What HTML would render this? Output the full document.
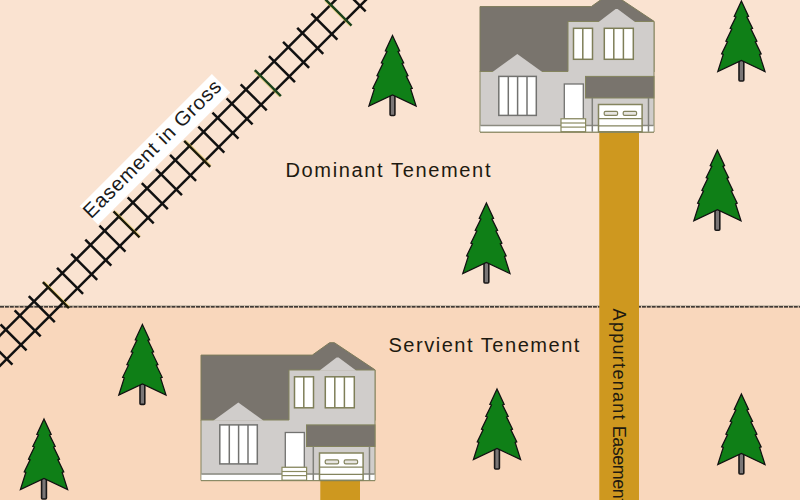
<!DOCTYPE html>
<html><head><meta charset="utf-8">
<style>
html,body{margin:0;padding:0;width:800px;height:500px;overflow:hidden;background:#fbe4d2;}
svg{display:block;}
text{font-family:"Liberation Sans",sans-serif;}
</style></head>
<body>
<svg width="800" height="500" viewBox="0 0 800 500">
<defs>
<g id="tree">
  <rect x="-2.4" y="56" width="4.8" height="24" rx="1" fill="#7a7676" stroke="#1a1818" stroke-width="1.6"/>
  <path d="M0,0 L7.17,15.40 L5.57,16.00 L11.21,27.40 L9.61,28.00 L15.51,40.20 L13.91,40.80 L19.77,52.90 L18.17,53.50 L23.60,70.60 L0,59.5 L-23.6,70.6 L-18.17,53.50 L-19.77,52.90 L-13.91,40.80 L-15.51,40.20 L-9.61,28.00 L-11.21,27.40 L-5.57,16.00 L-7.17,15.40 Z" fill="#0f7f17" stroke="#111" stroke-width="1.25" stroke-linejoin="miter"/>
</g>
<g id="house">
  <!-- roof -->
  <path d="M480,6.6 L591.3,6.6 L608.6,-5.8 L613.4,-5.8 L654,21.3 L654,72 L480,72 Z" fill="#79746d" stroke="#7d7b5a" stroke-width="1"/>
  <!-- walls -->
  <path d="M568,21.5 L654,21.5 L654,132 L480,132 L480,71.5 L568,71.5 Z" fill="#d0cdcb" stroke="#84845e" stroke-width="1"/>
  <path d="M492.2,72.2 L517.3,54 L542.6,72.2 Z" fill="#d0cdcb"/>
  <path d="M598.3,22.2 L615.6,9 L617.6,9 L635.4,22.2 Z" fill="#d0cdcb"/>
  <!-- base strip -->
  <rect x="480.5" y="126" width="173" height="5.8" fill="#fff"/>
  <line x1="480.5" y1="125.6" x2="653.5" y2="125.6" stroke="#8a8a80" stroke-width="1.5"/>
  <!-- upper windows -->
  <g fill="#fff" stroke="#7e7e58" stroke-width="1.5">
    <rect x="573.5" y="28.3" width="19" height="31"/>
    <rect x="604.3" y="28.3" width="29" height="31"/>
  </g>
  <g stroke="#7e7e58" stroke-width="1.5">
    <line x1="582.8" y1="28.3" x2="582.8" y2="59.3"/>
    <line x1="613.8" y1="28.3" x2="613.8" y2="59.3"/>
    <line x1="623.4" y1="28.3" x2="623.4" y2="59.3"/>
  </g>
  <!-- big window -->
  <rect x="498.8" y="76.4" width="37.5" height="39" fill="#fff" stroke="#727270" stroke-width="1.5"/>
  <g stroke="#727270" stroke-width="1.5">
    <line x1="508.3" y1="76.4" x2="508.3" y2="115.4"/>
    <line x1="517.6" y1="76.4" x2="517.6" y2="115.4"/>
    <line x1="527" y1="76.4" x2="527" y2="115.4"/>
  </g>
  <!-- door -->
  <rect x="564.3" y="84" width="19" height="35" fill="#fff" stroke="#727270" stroke-width="1.3"/>
  <!-- steps -->
  <rect x="561" y="118.8" width="24.6" height="12.9" fill="#fff" stroke="#8a8a60" stroke-width="1.2"/>
  <g stroke="#8a8a60" stroke-width="1.2">
    <line x1="561" y1="123" x2="585.6" y2="123"/>
    <line x1="561" y1="127.1" x2="585.6" y2="127.1"/>
  </g>
  <!-- awning -->
  <rect x="585.5" y="76.4" width="68.5" height="21.6" fill="#79746d" stroke="#84845e" stroke-width="1"/>
  <!-- pillars -->
  <g stroke="#80807a" stroke-width="1.5">
    <line x1="592.3" y1="98" x2="592.3" y2="131.8"/>
    <line x1="648.5" y1="98" x2="648.5" y2="131.8"/>
  </g>
  <!-- garage door -->
  <rect x="598.5" y="104.5" width="43.6" height="27.3" fill="#fff" stroke="#84845e" stroke-width="1.5"/>
  <g stroke="#84845e" stroke-width="1.3">
    <line x1="598.5" y1="118.7" x2="642.1" y2="118.7"/>
    <line x1="598.5" y1="125.8" x2="642.1" y2="125.8"/>
  </g>
  <rect x="604.2" y="111.4" width="13.4" height="3.9" rx="1.3" fill="#e8e6e2" stroke="#84845e" stroke-width="1.2"/>
  <rect x="623.2" y="111.4" width="13.4" height="3.9" rx="1.3" fill="#e8e6e2" stroke="#84845e" stroke-width="1.2"/>
  <!-- outline bottom -->
  <line x1="480" y1="132.2" x2="654" y2="132.2" stroke="#84845e" stroke-width="1"/>
</g>
</defs>

<!-- backgrounds -->
<rect x="0" y="0" width="800" height="307" fill="#fae3d1"/>
<rect x="0" y="307" width="800" height="193" fill="#f9d7bc"/>
<line x1="0" y1="305.6" x2="800" y2="305.6" stroke="#8a8a78" stroke-width="1" stroke-opacity="0.45"/>
<line x1="0" y1="306.9" x2="800" y2="306.9" stroke="#050505" stroke-width="1.4" stroke-dasharray="4 0.9"/>

<!-- railroad -->
<g transform="rotate(-45)">
  <g stroke="#111" stroke-width="2.5">
    <line x1="-400" y1="237.2" x2="400" y2="237.2"/>
    <line x1="-400" y1="258.7" x2="400" y2="258.7"/>
  </g>
  <g stroke="#111" stroke-width="2.5">
<line x1="-289.00" y1="229.8" x2="-289.00" y2="266.6"/>
<line x1="-269.02" y1="229.8" x2="-269.02" y2="266.6" stroke="#1c1a08"/>
<line x1="-249.04" y1="229.8" x2="-249.04" y2="266.6"/>
<line x1="-229.06" y1="229.8" x2="-229.06" y2="266.6"/>
<line x1="-209.08" y1="229.8" x2="-209.08" y2="266.6"/>
<line x1="-189.10" y1="229.8" x2="-189.10" y2="266.6"/>
<line x1="-169.12" y1="229.8" x2="-169.12" y2="266.6" stroke="#1c1a08"/>
<line x1="-149.14" y1="229.8" x2="-149.14" y2="266.6"/>
<line x1="-129.16" y1="229.8" x2="-129.16" y2="266.6"/>
<line x1="-109.18" y1="229.8" x2="-109.18" y2="266.6"/>
<line x1="-89.20" y1="229.8" x2="-89.20" y2="266.6"/>
<line x1="-69.22" y1="229.8" x2="-69.22" y2="266.6" stroke="#1c1a08"/>
<line x1="-49.24" y1="229.8" x2="-49.24" y2="266.6"/>
<line x1="-29.26" y1="229.8" x2="-29.26" y2="266.6"/>
<line x1="-9.28" y1="229.8" x2="-9.28" y2="266.6"/>
<line x1="10.70" y1="229.8" x2="10.70" y2="266.6"/>
<line x1="30.68" y1="229.8" x2="30.68" y2="266.6" stroke="#1c1a08"/>
<line x1="50.66" y1="229.8" x2="50.66" y2="266.6"/>
<line x1="70.64" y1="229.8" x2="70.64" y2="266.6"/>
<line x1="90.62" y1="229.8" x2="90.62" y2="266.6"/>
<line x1="110.60" y1="229.8" x2="110.60" y2="266.6"/>
<line x1="130.58" y1="229.8" x2="130.58" y2="266.6" stroke="#1b421b"/>
<line x1="150.56" y1="229.8" x2="150.56" y2="266.6"/>
<line x1="170.54" y1="229.8" x2="170.54" y2="266.6"/>
<line x1="190.52" y1="229.8" x2="190.52" y2="266.6"/>
<line x1="210.50" y1="229.8" x2="210.50" y2="266.6"/>
<line x1="230.48" y1="229.8" x2="230.48" y2="266.6" stroke="#1b421b"/>
<line x1="250.46" y1="229.8" x2="250.46" y2="266.6"/>
<line x1="270.44" y1="229.8" x2="270.44" y2="266.6"/>
<line x1="290.42" y1="229.8" x2="290.42" y2="266.6"/>
</g>
<g><line x1="-267.42" y1="230.5" x2="-267.42" y2="266" stroke="#d8c050" stroke-width="0.9" stroke-opacity="0.8"/>
<line x1="-167.52" y1="230.5" x2="-167.52" y2="266" stroke="#d8c050" stroke-width="0.9" stroke-opacity="0.8"/>
<line x1="-67.62" y1="230.5" x2="-67.62" y2="266" stroke="#d8c050" stroke-width="0.9" stroke-opacity="0.8"/>
<line x1="32.28" y1="230.5" x2="32.28" y2="266" stroke="#d8c050" stroke-width="0.9" stroke-opacity="0.8"/>
<line x1="128.98" y1="230.5" x2="128.98" y2="266" stroke="#d8c050" stroke-width="0.9" stroke-opacity="0.7"/>
<line x1="228.88" y1="230.5" x2="228.88" y2="266" stroke="#d8c050" stroke-width="0.9" stroke-opacity="0.7"/>
</g>
  <rect x="-89.5" y="202.1" width="187" height="26.1" fill="#fff"/>
  <text transform="translate(-90.8,219.6) scale(1.03,1)" font-size="20" fill="#1a1a1a" textLength="180.5" lengthAdjust="spacing">Easement in Gross</text>
</g>

<!-- driveways -->
<rect x="599.3" y="132.5" width="39.7" height="368" fill="#ce981f"/>
<rect x="320.3" y="481" width="39.7" height="19" fill="#ce981f"/>

<!-- houses -->
<use href="#house"/>
<use href="#house" transform="translate(-279,348.5)"/>

<!-- trees -->
<use href="#tree" transform="translate(392.5,35.5)"/>
<use href="#tree" transform="translate(741.4,1)"/>
<use href="#tree" transform="translate(717.4,150.3)"/>
<use href="#tree" transform="translate(486.4,203)"/>
<use href="#tree" transform="translate(142.4,324.4)"/>
<use href="#tree" transform="translate(44,419)"/>
<use href="#tree" transform="translate(497,389)"/>
<use href="#tree" transform="translate(741.4,394)"/>

<!-- labels -->
<text transform="translate(285.5,177) scale(1.03,1)" font-size="19.5" fill="#1e1a10" textLength="199" lengthAdjust="spacing">Dominant Tenement</text>
<text transform="translate(388.5,351.5) scale(1.03,1)" font-size="19.5" fill="#1e1a10" textLength="185.4" lengthAdjust="spacing">Servient Tenement</text>
<text transform="translate(613.3,308.6) rotate(90)" x="0" y="0" font-size="18" fill="#1e1a10" textLength="111" lengthAdjust="spacing">Appurtenant</text>
<text transform="translate(613.3,425.8) rotate(90)" x="0" y="0" font-size="18" fill="#1e1a10" textLength="77.6" lengthAdjust="spacing">Easement</text>
</svg>
</body></html>
